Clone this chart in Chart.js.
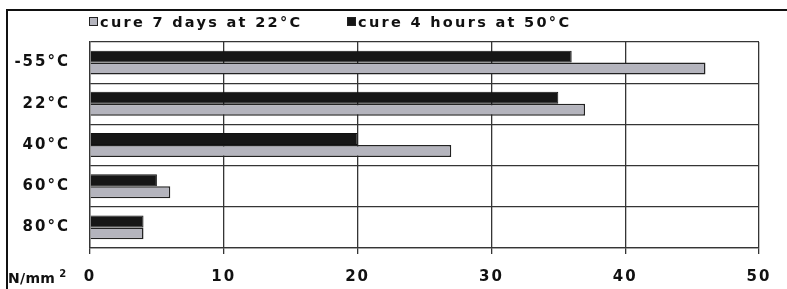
<!DOCTYPE html>
<html>
<head>
<meta charset="utf-8">
<script src="https://cdn.jsdelivr.net/npm/chart.js@4"></script>
<style>
  html, body { margin: 0; padding: 0; background: #fff; }
  #wrap { position: relative; width: 787px; height: 289px; overflow: hidden; }
  #frameTop { position: absolute; left: 6px; top: 9px; right: 0; height: 2px; background: #111; }
  #frameLeft { position: absolute; left: 6px; top: 9px; bottom: 0; width: 2px; background: #111; }
  #legend { position: absolute; top: 14px; left: 0; font: bold 14.5px "DejaVu Sans"; letter-spacing: 2.3px; color: #111; }
  .item { position: absolute; white-space: nowrap; }
  .box { display: inline-block; width: 7px; height: 7px; border: 1px solid #222; margin-right: 2px; vertical-align: 1px; }
  #unit { position: absolute; left: 8px; top: 268px; font: bold 14px "DejaVu Sans"; color: #111; letter-spacing: 0.3px; }
  #unit sup { font-size: 10px; margin-left: 4px; }
  canvas { position: absolute; left: 0; top: 0; }
</style>
</head>
<body>
<div id="wrap">
  <canvas id="chart" width="787" height="289"></canvas>
  <div id="frameTop"></div>
  <div id="frameLeft"></div>
  <div id="legend"></div>
  <div id="unit">N/mm<sup>2</sup></div>
</div>
<script>
const categories = ['-55°C', '22°C', '40°C', '60°C', '80°C'];
const cure7Days = [46, 37, 27, 6, 4];
const cure4Hours = [36, 35, 20, 5, 4];
const labels7Days = 'cure 7 days at 22°C';
const labels4Hours = 'cure 4 hours at 50°C';

const gray = '#b4b4bd';
const black = '#161616';
const lineColor = '#353535';

// canvas text in the scan is tracked out a bit
const spacing = {
  id: 'spacing',
  beforeDraw(chart) { chart.ctx.letterSpacing = '2px'; }
};

const chart = new Chart(document.getElementById('chart'), {
  type: 'bar',
  data: {
    labels: categories,
    datasets: [
      { label: labels4Hours, data: cure4Hours, backgroundColor: black, borderColor: '#111', borderWidth: 1 },
      { label: labels7Days, data: cure7Days, backgroundColor: gray, borderColor: '#222', borderWidth: 1.5 }
    ]
  },
  options: {
    indexAxis: 'y',
    responsive: false,
    animation: false,
    datasets: { bar: { categoryPercentage: 0.58, barPercentage: 1 } },
    layout: { padding: { top: 42, right: 28, left: 0, bottom: 0 } },
    plugins: { legend: { display: false }, tooltip: { enabled: false } },
    scales: {
      x: {
        min: 0, max: 50,
        ticks: { stepSize: 10, color: '#111', padding: 14, font: { family: 'DejaVu Sans', size: 15, weight: 'bold' } },
        grid: { color: lineColor, lineWidth: 1.3, tickLength: 6 },
        border: { color: lineColor, width: 1.3 },
        afterFit(s) { s.height = 41; }
      },
      y: {
        ticks: { color: '#111', padding: 20, font: { family: 'DejaVu Sans', size: 15, weight: 'bold' } },
        grid: { color: lineColor, lineWidth: 1.3, drawTicks: false },
        border: { color: lineColor, width: 1.3 },
        afterFit(s) { s.width = 90; }
      }
    }
  },
  plugins: [spacing]
});

// legend in the original order: light bars first
const legend = document.getElementById('legend');
const pos = [89, 347];
chart.data.datasets.slice().reverse().forEach((ds, i) => {
  const el = document.createElement('div');
  el.className = 'item';
  el.style.left = pos[i] + 'px';
  el.innerHTML = `<span class="box" style="background:${ds.backgroundColor}"></span>${ds.label}`;
  legend.appendChild(el);
});
</script>
</body>
</html>
